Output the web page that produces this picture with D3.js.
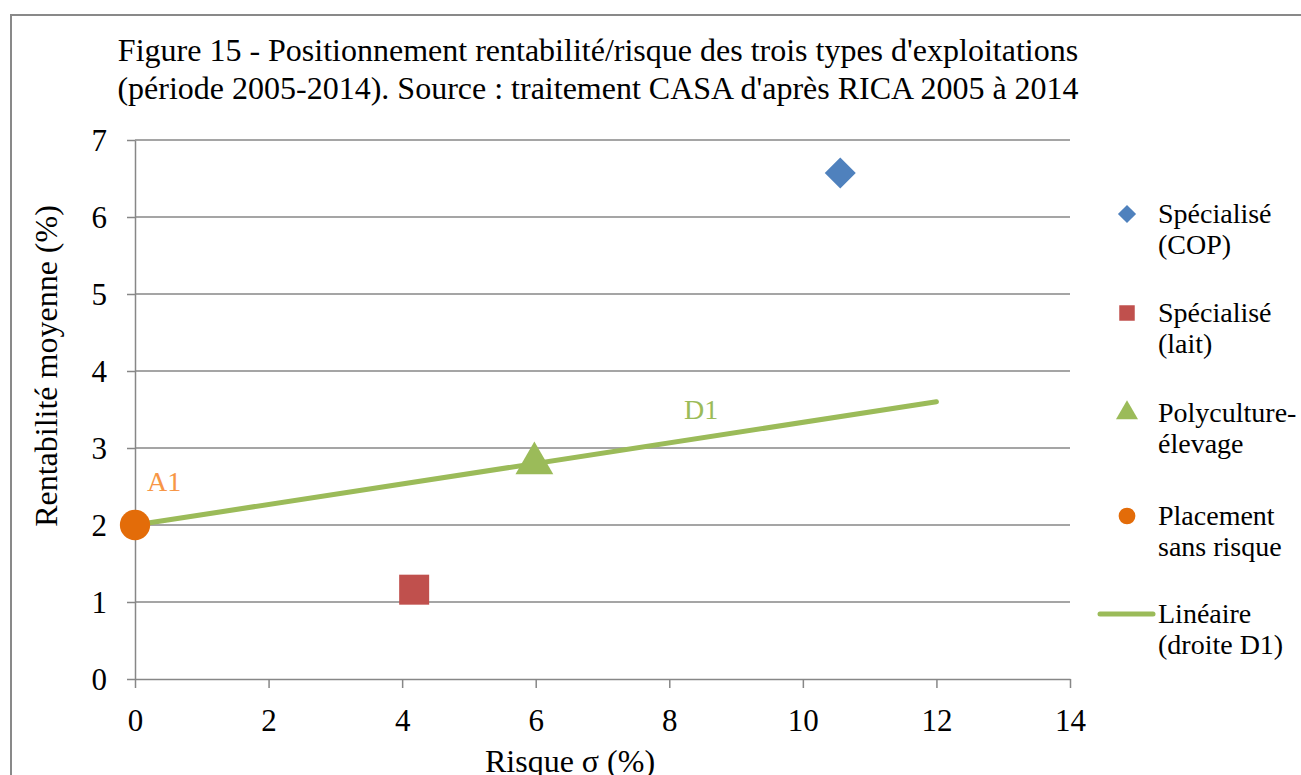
<!DOCTYPE html>
<html>
<head>
<meta charset="utf-8">
<script src="https://cdn.jsdelivr.net/npm/d3@7"></script>
<style>
  body { margin: 0; background: #fff; }
  svg text { font-family: "Liberation Serif", "Times New Roman", serif; fill: #000; }
</style>
</head>
<body>
<script>
// data
const seriesNames = ['Spécialisé (COP)', 'Spécialisé (lait)', 'Polyculture-élevage', 'Placement sans risque']
const seriesRisk = [10.56, 4.18, 5.98, 0]
const seriesReturn = [6.57, 1.16, 2.8, 2.0]
const seriesColors = ['#4F81BD', '#C0504D', '#9BBB59', '#E36C09']
const seriesShapes = [d3.symbolSquare, d3.symbolSquare, d3.symbolTriangle, d3.symbolCircle]
const seriesRotate = [45, 0, 0, 0]
const lineD1 = [[0, 2.0], [12, 3.6]]
const xTicks = [0, 2, 4, 6, 8, 10, 12, 14]
const yTicks = [0, 1, 2, 3, 4, 5, 6, 7]
const legendLabels = [['Spécialisé', '(COP)'], ['Spécialisé', '(lait)'], ['Polyculture-', 'élevage'],
  ['Placement', 'sans risque'], ['Linéaire', '(droite D1)']]

const width = 1301, height = 775
const svg = d3.select('body').append('svg')
  .attr('width', width)
  .attr('height', height)

// outer frame
svg.append('rect')
  .attr('x', 11).attr('y', 15)
  .attr('width', 1300).attr('height', 800)
  .attr('fill', 'none')
  .attr('stroke', '#898989')
  .attr('stroke-width', 2)

const x = d3.scaleLinear().domain([0, 14]).range([135, 1070])
const y = d3.scaleLinear().domain([0, 7]).range([679, 140])

// title
const title = svg.append('text')
  .attr('text-anchor', 'middle')
  .style('font-size', '32px')
title.append('tspan').attr('x', 598).attr('y', 61)
  .text("Figure 15 - Positionnement rentabilité/risque des trois types d'exploitations")
title.append('tspan').attr('x', 598).attr('y', 99)
  .text("(période 2005-2014). Source : traitement CASA d'après RICA 2005 à 2014")

// grid
svg.append('g').selectAll('line')
  .data(yTicks.filter(d => d > 0)).enter()
  .append('line')
  .attr('x1', x(0)).attr('x2', x(14))
  .attr('y1', d => y(d)).attr('y2', d => y(d))
  .attr('stroke', '#878787').attr('stroke-width', 1.5)

const yAxis = svg.append('g')
  .attr('transform', `translate(${x(0)},0)`)
  .call(d3.axisLeft(y).tickValues(yTicks).tickFormat(d3.format('d'))
    .tickSize(8).tickPadding(20).tickSizeOuter(0))
const xAxis = svg.append('g')
  .attr('transform', `translate(0,${y(0)})`)
  .call(d3.axisBottom(x).tickValues(xTicks).tickFormat(d3.format('d'))
    .tickSize(9).tickPadding(21).tickSizeOuter(0))

;[xAxis, yAxis].forEach(ax => {
  ax.select('.domain').attr('stroke', '#878787').attr('stroke-width', 1.5)
  ax.selectAll('.tick line').attr('stroke', '#878787').attr('stroke-width', 1.5)
  ax.selectAll('.tick text')
    .style('font-family', '"Liberation Serif", "Times New Roman", serif')
    .style('font-size', '31px')
    .attr('fill', '#000')
})
yAxis.selectAll('.tick text').attr('dy', '0.35em')

// axis titles
svg.append('text')
  .attr('x', 570).attr('y', 772)
  .attr('text-anchor', 'middle')
  .style('font-size', '32px')
  .text('Risque σ (%)')
svg.append('text')
  .attr('transform', `translate(57,366) rotate(-90)`)
  .attr('text-anchor', 'middle')
  .style('font-size', '32px')
  .text('Rentabilité moyenne (%)')

// trend line D1
svg.append('path')
  .datum(lineD1)
  .attr('d', d3.line().x(d => x(d[0])).y(d => y(d[1])))
  .attr('stroke', '#9BBB59')
  .attr('stroke-width', 5)
  .attr('stroke-linecap', 'round')
  .attr('fill', 'none')

// points
const sizes = [480, 900, 620, 720]
svg.append('g').selectAll('path')
  .data(seriesNames).enter()
  .append('path')
  .attr('transform', (d, i) => `translate(${x(seriesRisk[i])},${y(seriesReturn[i])}) rotate(${seriesRotate[i]})`)
  .attr('d', (d, i) => d3.symbol().type(seriesShapes[i]).size(sizes[i])())
  .attr('fill', (d, i) => seriesColors[i])

// labels
svg.append('text')
  .attr('x', 147).attr('y', 491)
  .style('font-size', '28px')
  .style('fill', '#F79646')
  .text('A1')
svg.append('text')
  .attr('x', 684).attr('y', 419)
  .style('font-size', '28px')
  .style('fill', '#9BBB59')
  .text('D1')

// legend
const legendY = [214, 313, 413, 516, 614]
const legendSizes = [165, 240, 210, 220]
const legend = svg.append('g')
legendLabels.forEach((lab, i) => {
  if (i < 4) {
    legend.append('path')
      .attr('transform', `translate(1127,${legendY[i]}) rotate(${seriesRotate[i]})`)
      .attr('d', d3.symbol().type(seriesShapes[i]).size(legendSizes[i])())
      .attr('fill', seriesColors[i])
  } else {
    legend.append('line')
      .attr('x1', 1100).attr('x2', 1153)
      .attr('y1', legendY[i]).attr('y2', legendY[i])
      .attr('stroke', '#9BBB59').attr('stroke-width', 5)
      .attr('stroke-linecap', 'round')
  }
  const t = legend.append('text').style('font-size', '28px')
  t.append('tspan').attr('x', 1158).attr('y', legendY[i] + 9).text(lab[0])
  t.append('tspan').attr('x', 1158).attr('y', legendY[i] + 40).text(lab[1])
})
</script>
</body>
</html>
